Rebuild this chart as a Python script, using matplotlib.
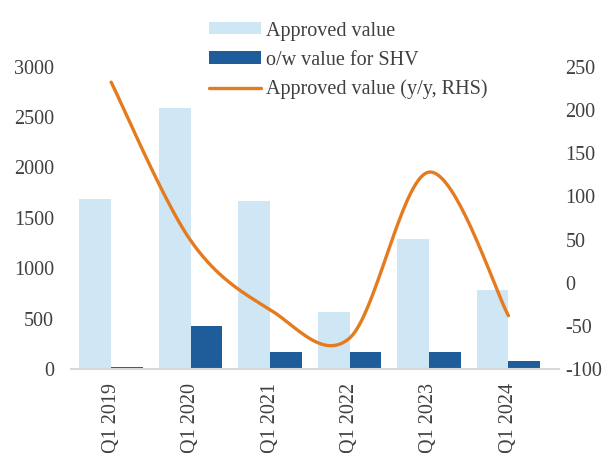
import numpy as np
import matplotlib.pyplot as plt

plt.rcParams['font.family'] = ['Liberation Serif', 'DejaVu Serif']
plt.rcParams['font.size'] = 14.5
plt.rcParams['axes.unicode_minus'] = False

# data
quarters = ["Q1 2019", "Q1 2020", "Q1 2021", "Q1 2022", "Q1 2023", "Q1 2024"]
approved = [1685, 2585, 1665, 570, 1290, 790]
shv = [26, 425, 170, 170, 175, 82]
yoy = [232, 49, -31, -64, 128, -38]

light = "#CFE6F4"
dark = "#1F5D9A"
orange = "#E57B1F"
txt = "#404040"


def smooth(xs, ys, n=40):
    # Excel style smoothed line: cubic bezier through the points
    xs = np.asarray(xs, float)
    ys = np.asarray(ys, float)
    px = np.concatenate([[xs[0]], xs, [xs[-1]]])
    py = np.concatenate([[ys[0]], ys, [ys[-1]]])
    ox, oy = [], []
    t = np.linspace(0, 1, n)
    for i in range(1, len(px) - 2):
        p0 = np.array([px[i], py[i]])
        p3 = np.array([px[i + 1], py[i + 1]])
        c1 = p0 + (np.array([px[i + 1], py[i + 1]]) - np.array([px[i - 1], py[i - 1]])) / 6
        c2 = p3 - (np.array([px[i + 2], py[i + 2]]) - np.array([px[i], py[i]])) / 6
        pts = ((1 - t) ** 3)[:, None] * p0 + (3 * (1 - t) ** 2 * t)[:, None] * c1 \
            + (3 * (1 - t) * t ** 2)[:, None] * c2 + (t ** 3)[:, None] * p3
        ox.extend(pts[:, 0])
        oy.extend(pts[:, 1])
    return np.array(ox), np.array(oy)


fig = plt.figure(figsize=(6.04, 4.53), dpi=100)
ax = fig.add_axes([0.1182, 0.1848, 0.926 - 0.1182, 0.853 - 0.1848])
ax2 = ax.twinx()

x = np.arange(len(quarters))
w = 0.4
b1 = ax.bar(x - w / 2, approved, w, color=light, label="Approved value", zorder=2)
b2 = ax.bar(x + w / 2, shv, w, color=dark, label="o/w value for SHV", zorder=2)

sx, sy = smooth(x, yoy)
l1, = ax2.plot(sx, sy, color=orange, lw=2.4, solid_capstyle='round',
               label="Approved value (y/y, RHS)")

ax.set_xlim(-0.5, 5.64)
ax.set_ylim(0, 3000)
ax.set_yticks(np.arange(0, 3001, 500))
ax2.set_ylim(-100, 250)
ax2.set_yticks(np.arange(-100, 251, 50))

ax.set_xticks(x)
ax.set_xticklabels(quarters, rotation=90, color=txt)

for a in (ax, ax2):
    for s in a.spines.values():
        s.set_visible(False)
    a.tick_params(length=0, colors=txt, labelsize=14.5)
ax.spines['bottom'].set_visible(True)
ax.spines['bottom'].set_color("#D9D9D9")
ax.spines['bottom'].set_linewidth(1.5)
ax.tick_params(axis='y', pad=12.5)
ax.tick_params(axis='x', pad=10)
ax2.tick_params(axis='y', pad=4.5)

fig.legend(handles=[b1, b2, l1], loc='upper left', bbox_to_anchor=(0.346, 0.9525),
           frameon=False, borderpad=0, borderaxespad=0, handlelength=2.6,
           handleheight=0.55, handletextpad=0.25, labelspacing=0.5,
           fontsize=14.5, labelcolor=txt)

fig.savefig("out.png", dpi=100)
